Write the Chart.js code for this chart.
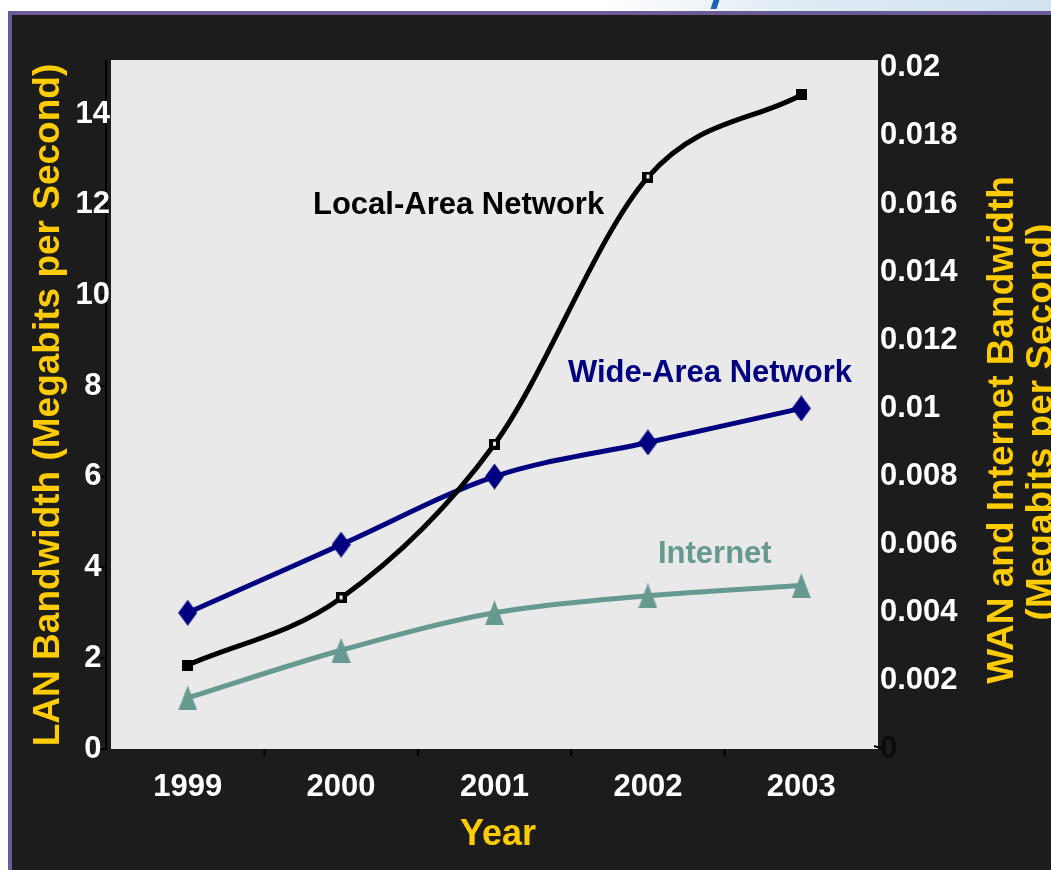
<!DOCTYPE html>
<html lang="en">
<head>
    <meta charset="UTF-8">
    <title>LAN, WAN and Internet Bandwidth</title>
    <script src="https://cdn.jsdelivr.net/npm/chart.js"></script>
    <style>
        body { margin: 0; width: 1051px; height: 870px; background: #fff; position: relative; overflow: hidden; }
        .glow { position: absolute; left: 600px; top: 0; width: 451px; height: 11px; background: linear-gradient(to right, #fff, #dfeaf4 45%, #d2e2f0); }
        .tail { position: absolute; left: 712px; top: 0; width: 6px; height: 9px; background: #1b63b5; transform: skewX(-18deg); }
        .frame { position: absolute; left: 8px; top: 11px; right: 0; bottom: 0; background: #6c5c96; }
        .panel { position: absolute; left: 12px; top: 15px; right: 0; bottom: 0; background: #1c1c1c; }
        canvas { position: absolute; left: 0; top: 0; }
    </style>
</head>
<body>
    <div class="glow"></div>
    <div class="tail"></div>
    <div class="frame"></div>
    <div class="panel"></div>
    <canvas id="bwChart" width="1051" height="870"></canvas>

    <script>
        // values
        const years = ['1999', '2000', '2001', '2002', '2003'];
        const lanValues = [1.85, 3.33, 6.72, 12.61, 14.42];
        const wanValues = [0.004, 0.006, 0.008, 0.009, 0.010];
        const internetValues = [0.0015, 0.0029, 0.004, 0.0045, 0.0048];
        const lanTicks = [0, 2, 4, 6, 8, 10, 12, 14];
        const wanTicks = [0, 0.002, 0.004, 0.006, 0.008, 0.01, 0.012, 0.014, 0.016, 0.018, 0.02];

        const FONT = '"Liberation Sans", Arial, sans-serif';
        const YELLOW = '#ffcc00';
        const NAVY = '#000080';
        const TEAL = '#66998f';

        // marker images
        function makeDiamond(w, h, color) {
            const c = document.createElement('canvas');
            c.width = w; c.height = h;
            const g = c.getContext('2d');
            g.fillStyle = color;
            g.beginPath();
            g.moveTo(w / 2, 0); g.lineTo(w, h / 2); g.lineTo(w / 2, h); g.lineTo(0, h / 2);
            g.closePath(); g.fill();
            return c;
        }
        function makeTriangle(w, h, color) {
            const c = document.createElement('canvas');
            c.width = w; c.height = h;
            const g = c.getContext('2d');
            g.fillStyle = color;
            g.beginPath();
            g.moveTo(w / 2, 0); g.lineTo(w, h); g.lineTo(0, h);
            g.closePath(); g.fill();
            return c;
        }
        function makeSquare(s, hollow) {
            const c = document.createElement('canvas');
            c.width = s; c.height = s;
            const g = c.getContext('2d');
            g.fillStyle = '#000';
            g.fillRect(0, 0, s, s);
            if (hollow) {
                g.fillStyle = '#e9e9e9';
                g.fillRect(4, 3, 3, 4);
            }
            return c;
        }
        const sqFull = makeSquare(11, false);
        const sqOpen = makeSquare(11, true);

        const decor = {
            id: 'decor',
            beforeDraw(chart) {
                const ctx = chart.ctx;
                const a = chart.chartArea;
                const y = chart.scales.y;
                const x = chart.scales.x;
                ctx.save();
                ctx.fillStyle = '#e9e9e9';
                ctx.fillRect(a.left, a.top, a.right - a.left, a.bottom - a.top);
                // left axis line and ticks
                ctx.strokeStyle = '#000';
                ctx.lineWidth = 2;
                ctx.beginPath();
                ctx.moveTo(106, a.top);
                ctx.lineTo(106, a.bottom + 1);
                lanTicks.forEach(function (v) {
                    const py = y.getPixelForValue(v);
                    ctx.moveTo(100, py);
                    ctx.lineTo(106, py);
                });
                // category boundary ticks
                for (let i = 0; i < years.length - 1; i++) {
                    const px = (x.getPixelForValue(i) + x.getPixelForValue(i + 1)) / 2;
                    ctx.moveTo(px, a.bottom);
                    ctx.lineTo(px, a.bottom + 7);
                }
                ctx.moveTo(a.right - 4, a.bottom - 3);
                ctx.lineTo(a.right + 6, a.bottom);
                ctx.stroke();
                ctx.restore();
            },
            afterDraw(chart) {
                const ctx = chart.ctx;
                ctx.save();
                // series labels
                ctx.font = 'bold 31px ' + FONT;
                ctx.textBaseline = 'middle';
                ctx.textAlign = 'left';
                ctx.fillStyle = '#000';
                ctx.fillText('Local-Area Network', 313, 205);
                ctx.fillStyle = NAVY;
                ctx.fillText('Wide-Area Network', 568, 373);
                ctx.fillStyle = TEAL;
                ctx.fillText('Internet', 658, 554);

                // axis titles
                ctx.fillStyle = YELLOW;
                ctx.textAlign = 'center';
                ctx.textBaseline = 'alphabetic';
                ctx.font = 'bold 36px ' + FONT;
                ctx.fillText('Year', 498, 845);

                ctx.font = 'bold 37px ' + FONT;
                ctx.save();
                ctx.translate(59, 405);
                ctx.rotate(-Math.PI / 2);
                ctx.fillText('LAN Bandwidth (Megabits per Second)', 0, 0);
                ctx.restore();

                ctx.save();
                ctx.translate(1013, 430);
                ctx.rotate(-Math.PI / 2);
                ctx.fillText('WAN and Internet Bandwidth', 0, 0);
                ctx.fillText('(Megabits per Second)', 8, 39);
                ctx.restore();
                ctx.restore();
            }
        };

        const tickFont = { family: FONT, size: 31, weight: 'bold' };

        const ctx = document.getElementById('bwChart').getContext('2d');
        const bwChart = new Chart(ctx, {
            type: 'line',
            data: {
                labels: years,
                datasets: [
                    {
                        label: 'Local-Area Network',
                        data: lanValues,
                        yAxisID: 'y',
                        borderColor: '#000',
                        borderWidth: 5,
                        cubicInterpolationMode: 'monotone',
                        pointStyle: [sqFull, sqOpen, sqOpen, sqOpen, sqFull],
                        pointRadius: 6,
                        order: 1
                    },
                    {
                        label: 'Wide-Area Network',
                        data: wanValues,
                        yAxisID: 'y2',
                        borderColor: NAVY,
                        borderWidth: 5,
                        cubicInterpolationMode: 'monotone',
                        pointStyle: makeDiamond(19, 26, NAVY),
                        pointRadius: 10,
                        order: 2
                    },
                    {
                        label: 'Internet',
                        data: internetValues,
                        yAxisID: 'y2',
                        borderColor: TEAL,
                        borderWidth: 5,
                        cubicInterpolationMode: 'monotone',
                        pointStyle: makeTriangle(19, 25, TEAL),
                        pointRadius: 10,
                        order: 3
                    }
                ]
            },
            options: {
                responsive: false,
                animation: false,
                layout: { padding: { top: 60, left: 0, right: 0, bottom: 0 } },
                plugins: {
                    legend: { display: false },
                    tooltip: { enabled: false }
                },
                scales: {
                    x: {
                        offset: true,
                        grid: { display: false, drawTicks: false },
                        border: { display: false },
                        ticks: { color: '#fff', font: tickFont, padding: 20, maxRotation: 0 },
                        afterFit: function (s) { s.height = 121; }
                    },
                    y: {
                        position: 'left',
                        min: 0,
                        max: 15.19,
                        grid: { display: false, drawTicks: false },
                        border: { display: false },
                        afterBuildTicks: function (s) { s.ticks = lanTicks.map(function (v) { return { value: v }; }); },
                        ticks: { color: '#fff', font: tickFont, padding: 1, crossAlign: 'center' },
                        afterFit: function (s) { s.width = 111; }
                    },
                    y2: {
                        position: 'right',
                        min: 0,
                        max: 0.02023,
                        grid: { display: false, drawTicks: false },
                        border: { display: false },
                        afterBuildTicks: function (s) { s.ticks = wanTicks.map(function (v) { return { value: v }; }); },
                        ticks: {
                            font: tickFont,
                            padding: 2,
                            color: function (c) { return c.tick && c.tick.value === 0 ? '#0b0b0b' : '#fff'; },
                            callback: function (v) { return String(+Number(v).toFixed(4)); }
                        },
                        afterFit: function (s) { s.width = 173; }
                    }
                }
            },
            plugins: [decor]
        });
    </script>
</body>
</html>
